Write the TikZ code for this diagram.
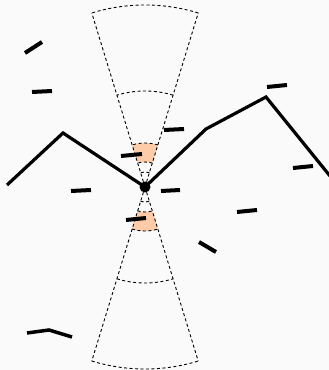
\documentclass[tikz,border=0pt]{standalone}
\usetikzlibrary{calc}
\definecolor{peach}{HTML}{FDCBA8}
\definecolor{bg}{HTML}{FAFAFA}
\tikzset{
  conetick/.style={line width=0.9pt, dash pattern=on 3pt off 2.5pt},
  ridge/.style={line width=3.2pt, line join=miter},
  tick/.style={line width=4pt}
}
\begin{document}
\begin{tikzpicture}[x=1pt,y=1pt]
\fill[bg] (0,0) rectangle (329,370);
\useasboundingbox (0,0) rectangle (329,370);
\coordinate (C) at (145,183);
% shaded bands
\fill[peach] ($(C)+(73:25)$) arc[start angle=73,end angle=107,radius=25pt] -- ($(C)+(107:44)$) arc[start angle=107,end angle=73,radius=44pt] -- cycle;
\fill[peach] ($(C)+(253:25)$) arc[start angle=253,end angle=287,radius=25pt] -- ($(C)+(287:44)$) arc[start angle=287,end angle=253,radius=44pt] -- cycle;
% cones
\foreach \a/\b in {73/107, 253/287}{
  \draw[conetick] (C) -- ($(C)+(\a:182)$);
  \draw[conetick] (C) -- ($(C)+(\b:182)$);
  \foreach \r in {15,25,44,96,182}{
    \draw[conetick] ($(C)+(\a:\r)$) arc[start angle=\a,end angle=\b,radius=\r pt];
  }
}
% ridge line
\draw[ridge] (7,185) -- (63,237) -- (C) -- (206,241) -- (266,273) -- (330,194);
% ticks
\draw[tick] (25,317) -- (42,328);
\draw[tick] (32,278) -- (52,279);
\draw[tick] (164,240) -- (184,241);
\draw[tick] (121,214) -- (142,216);
\draw[tick] (267,283) -- (287,285);
\draw[tick] (293,202) -- (313,204);
\draw[tick] (71,179) -- (91,180);
\draw[tick] (161,179) -- (180,180);
\draw[tick] (237,158) -- (257,160);
\draw[tick] (126,150) -- (146,152);
\draw[tick] (199,128) -- (216,118);
\draw[line width=3.5pt] (27,37) -- (49,40) -- (72,33);
% center dot
\fill (C) circle (5.5pt);
\end{tikzpicture}
\end{document}
